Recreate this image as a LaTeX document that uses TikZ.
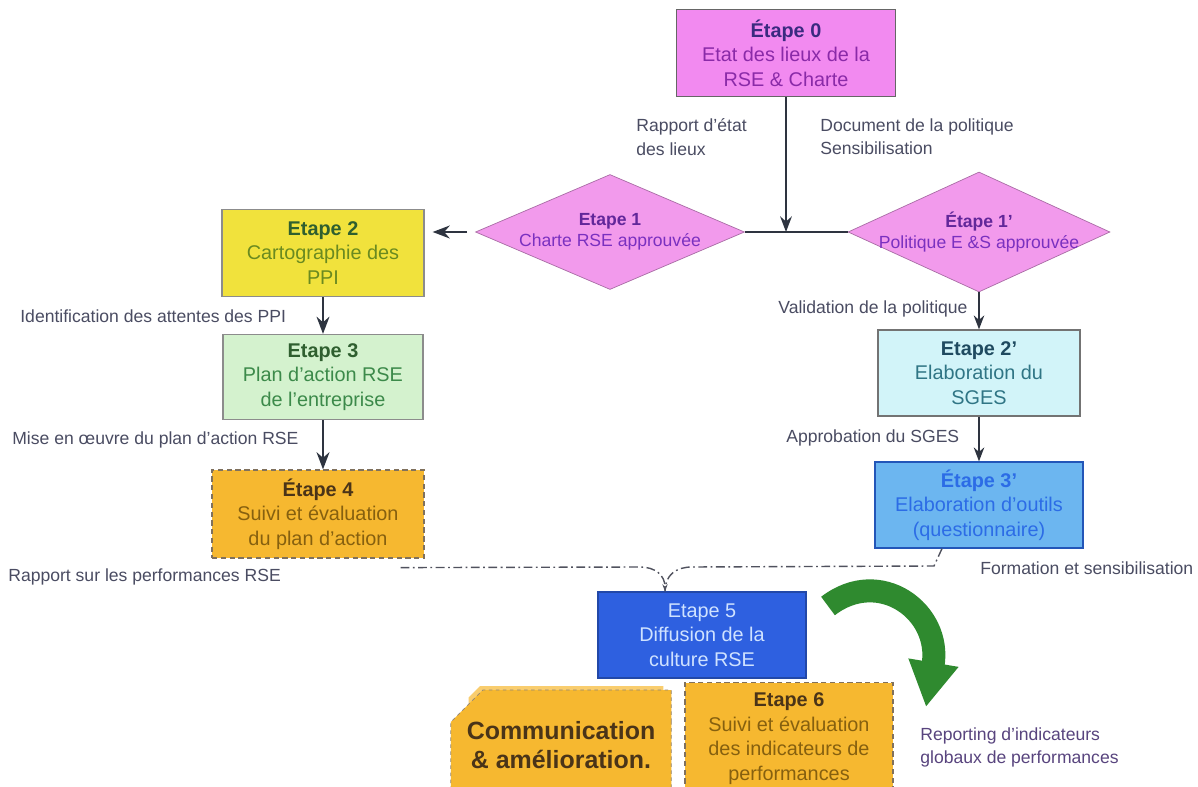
\documentclass[tikz,border=0pt]{standalone}
\usepackage{fontspec}
\setmainfont{Liberation Sans}
\usetikzlibrary{shapes.geometric,shapes.misc,arrows.meta,positioning}
\definecolor{pinkE}{HTML}{F28AF0}
\definecolor{pinkD}{HTML}{F29AEC}
\definecolor{purpE}{HTML}{8A2AA8}
\definecolor{navyE}{HTML}{3A2A80}
\definecolor{purpD}{HTML}{7A30C0}
\definecolor{yellowE}{HTML}{F1E23C}
\definecolor{greenT}{HTML}{2F5F2F}
\definecolor{oliveT}{HTML}{6A8A20}
\definecolor{mintE}{HTML}{D4F2CE}
\definecolor{mintT}{HTML}{3C8A4A}
\definecolor{orangeE}{HTML}{F6B830}
\definecolor{brownT}{HTML}{4A3418}
\definecolor{goldT}{HTML}{86600F}
\definecolor{cyanE}{HTML}{D2F4F9}
\definecolor{tealT}{HTML}{2F7585}
\definecolor{tealB}{HTML}{1F4A60}
\definecolor{skyE}{HTML}{6CB6F0}
\definecolor{skyT}{HTML}{2C6CE6}
\definecolor{royalE}{HTML}{2E60E0}
\definecolor{royalT}{HTML}{CFE2FF}
\definecolor{greenA}{HTML}{2F8A2F}
\definecolor{lblc}{HTML}{4A4C62}
\definecolor{arrowc}{HTML}{2E3440}
\definecolor{linkc}{HTML}{50525E}
\newcommand{\etape}[2]{\textcolor{#1}{\textbf{#2}}}
\begin{document}
\begin{tikzpicture}[x=0.02cm, y=-0.02cm, >=Stealth,
	box/.style={rectangle, align=center, inner sep=2pt, line width=0.7pt, font=\fontsize{11.3}{14}\selectfont},
	choice/.style={diamond, aspect=2.3, inner ysep=0pt, inner xsep=-0.5cm, align=center, fill=pinkD, draw=pinkD!70!black, text=purpD, font=\fontsize{10}{12}\selectfont},
	dashbox/.style={box, fill=orangeE, draw=brownT!70, dash pattern=on 3pt off 2pt},
	lbl/.style={inner sep=0pt, align=left, text=lblc, font=\fontsize{10}{13.5}\selectfont},
	flow/.style={->, line width=1.5pt, draw=arrowc},
	flowthin/.style={->, line width=1.1pt, draw=arrowc},
	link/.style={line width=0.8pt, draw=linkc, dash pattern=on 5pt off 2pt on 1pt off 2pt}]
	\clip (0,0) rectangle (1198,787);
	\fill[white] (0,0) rectangle (1198,787);
	% etape 0 et decisions
	\node[box, fill=pinkE, draw=black!60, text=purpE, minimum width=4.38cm, minimum height=1.74cm] (E0) at (786,53)
		{\etape{navyE}{Étape 0}\\Etat des lieux de la\\RSE \& Charte};
	\node[choice, minimum width=5.38cm, minimum height=2.3cm] (D1) at (610,232)
		{\etape{purpD!80!black}{Etape 1}\\Charte RSE approuvée};
	\node[choice, minimum width=5.24cm, minimum height=2.4cm] (D1b) at (979,232)
		{\etape{purpD!80!black}{Étape 1'}\\Politique E \&S approuvée};
	\draw[line width=0.9pt, draw=arrowc] (D1.east) -- (D1b.west);
	\draw[flow, line width=1.3pt] (E0.south) -- (E0.south |- D1.east);
	\path (E0.south) ++(-150,21) node[lbl, anchor=north west] (L0a) {Rapport d'état\\des lieux};
	\path (E0.south) ++(34,21) node[lbl, anchor=north west] (L0b) {Document de la politique\\Sensibilisation};
	% branche gauche
	\node[box, fill=yellowE, draw=black!45, text=oliveT, minimum width=4.04cm, minimum height=1.74cm] (E2) at (323,253)
		{\etape{greenT}{Etape 2}\\Cartographie des\\PPI};
	\node[box, fill=mintE, draw=black!45, text=mintT, minimum width=4cm, minimum height=1.7cm] (E3) at (323,377)
		{\etape{greenT}{Etape 3}\\Plan d'action RSE\\de l'entreprise};
	\node[dashbox, text=goldT, minimum width=4.24cm, minimum height=1.76cm] (E4) at (318,514)
		{\etape{brownT}{Étape 4}\\Suivi et évaluation\\du plan d'action};
	\draw[flow, shorten <=0.16cm, shorten >=0.16cm] (D1.west) -- (D1.west -| E2.east);
	\draw[flow] (E2.south) -- (E3.north);
	\draw[flow] (E3.south) -- (E3.south |- E4.north);
	\node[lbl, anchor=west] (L2) at (20,316) {Identification des attentes des PPI};
	\node[lbl, anchor=west] (L3) at (12,440) {Mise en œuvre du plan d'action RSE};
	\node[lbl, anchor=west] (L4) at (8,577) {Rapport sur les performances RSE};
	% branche droite
	\node[box, fill=cyanE, draw=black!55, text=tealT, minimum width=4.04cm, minimum height=1.72cm] (E2b) at (979,373)
		{\etape{tealB}{Etape 2'}\\Elaboration du\\SGES};
	\node[box, fill=skyE, draw=skyT!80!black, text=skyT, minimum width=4.16cm, minimum height=1.72cm] (E3b) at (979,505)
		{\etape{skyT}{Étape 3'}\\Elaboration d'outils\\(questionnaire)};
	\draw[flowthin] (D1b.south) -- (E2b.north);
	\draw[flowthin] (E2b.south) -- (E3b.north);
	\node[lbl, anchor=west] (L2b) at (778,309) {Validation de la politique};
	\node[lbl, anchor=west] (L3b) at (786,438) {Approbation du SGES};
	\node[lbl, anchor=west] (L4b) at (980,568) {Formation et sensibilisation};
	% diffusion
	\node[box, fill=royalE, draw=royalE!75!black, text=royalT, minimum width=4.16cm, minimum height=1.72cm] (E5) at (702,635)
		{Etape 5\\Diffusion de la\\culture RSE};
	\coordinate (J) at ([xshift=-0.74cm]E5.north);
	\draw[link, -{Stealth[length=4pt]}] ([xshift=-0.48cm,yshift=-0.18cm]E4.south east) -- (640,567)
		.. controls (655,567) and (665,575) .. (J);
	\draw[link] ([xshift=-0.74cm]E3b.south) -- (934,566) -- (692,567)
		.. controls (676,567) and (665,575) .. (J);
	% etape 6 et communication
	\node[dashbox, text=goldT, anchor=north, minimum width=4.16cm, minimum height=2.24cm] (E6) at (789,682)
		{\etape{brownT}{Etape 6}\\Suivi et évaluation\\des indicateurs de\\performances};
	\node[chamfered rectangle, chamfered rectangle corners=north west, chamfered rectangle xsep=0.3cm, chamfered rectangle ysep=0.3cm,
		fill=orangeE!70, minimum width=3.9cm, minimum height=2.2cm] (Cb) at (566,741) {};
	\node[chamfered rectangle, chamfered rectangle corners=north west, chamfered rectangle xsep=0.32cm, chamfered rectangle ysep=0.32cm,
		fill=orangeE, draw=brownT!60, dash pattern=on 2pt off 2pt, minimum width=4cm, minimum height=2.2cm,
		align=center, inner sep=0pt, text=brownT, font=\fontsize{14.2}{16.5}\selectfont\bfseries] (C) at (561,745)
		{Communication\\\& amélioration.};
	\draw[line width=0.46cm, draw=greenA, -{Triangle[width=0.95cm,length=0.9cm]}] (828,606) .. controls (880,566) and (942,612) .. (926,707);
	\node[lbl, anchor=north west, text=lblc!70!purpD] (L6) at (920,727) {Reporting d'indicateurs\\globaux de performances};
\end{tikzpicture}
\end{document}
